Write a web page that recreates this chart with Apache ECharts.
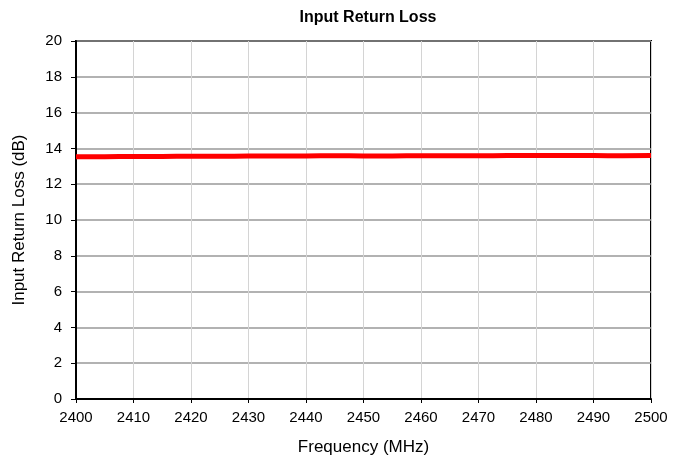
<!DOCTYPE html>
<html><head><meta charset="utf-8">
<script src="https://cdn.jsdelivr.net/npm/echarts@6/dist/echarts.min.js"></script>
<style>html,body{margin:0;padding:0;background:#fff}#c{width:684px;height:466px}</style>
</head><body><div id="c"></div>
<script>
const freqs = [2400,2405,2410,2415,2420,2425,2430,2435,2440,2445,2450,2455,2460,2465,2470,2475,2480,2485,2490,2495,2500];
const returnLoss = [13.53,13.54,13.55,13.55,13.56,13.56,13.57,13.57,13.58,13.59,13.58,13.58,13.59,13.59,13.59,13.6,13.6,13.6,13.6,13.59,13.6];
const xTicks = [2400,2410,2420,2430,2440,2450,2460,2470,2480,2490,2500];
const yTicks = [0,2,4,6,8,10,12,14,16,18,20];
const font = 'Liberation Sans, Arial, sans-serif';
const chart = echarts.init(document.getElementById('c'), null, {renderer:'canvas'});
chart.setOption({
  animation:false,
  title:{text:'Input Return Loss',left:363,textAlign:'center',top:5,textStyle:{fontFamily:font,fontSize:16,fontWeight:'bold',color:'#000'}},
  grid:{left:76,right:33,top:41,bottom:67,show:true,borderColor:'#000',borderWidth:2,backgroundColor:'#fff'},
  xAxis:{type:'value',min:xTicks[0],max:xTicks[xTicks.length-1],interval:10,
    name:'Frequency (MHz)',nameLocation:'middle',nameGap:40,nameTextStyle:{fontFamily:font,fontSize:17,color:'#000'},
    axisLine:{lineStyle:{color:'#000',width:2}},axisTick:{show:true,length:4,lineStyle:{color:'#000'}},
    axisLabel:{fontFamily:font,fontSize:15,color:'#000',margin:11,formatter:v=>String(v)},
    splitLine:{show:true,lineStyle:{color:'#d4d4d4',width:1}}},
  yAxis:{type:'value',min:yTicks[0],max:yTicks[yTicks.length-1],interval:2,
    name:'Input Return Loss (dB)',nameLocation:'middle',nameGap:48,nameTextStyle:{fontFamily:font,fontSize:17,color:'#000'},
    axisLine:{show:true,lineStyle:{color:'#000',width:2}},axisTick:{show:true,length:5,lineStyle:{color:'#000'}},
    axisLabel:{fontFamily:font,fontSize:15,color:'#000',margin:14},
    splitLine:{show:true,lineStyle:{color:'#999',width:1.5}}},
  series:[{type:'line',data:freqs.map((f,i)=>[f,returnLoss[i]]),showSymbol:false,smooth:true,
    lineStyle:{color:'#ff0000',width:5}}]
});
</script></body></html>
